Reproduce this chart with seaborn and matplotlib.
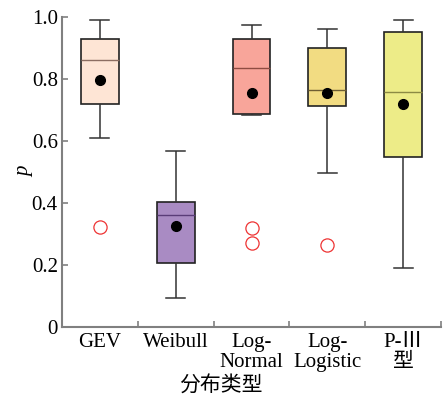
import numpy as np
import pandas as pd
import matplotlib
matplotlib.use("Agg")
import matplotlib.pyplot as plt
import seaborn as sns

cats = ["GEV", "Weibull", "Log-Normal", "Log-Logistic", "P-III"]
tick_labels = ["GEV", "Weibull", "Log-\nNormal", "Log-\nLogistic", "P-Ⅲ\n型"]

p_gev = [0.323, 0.61, 0.72, 0.84, 0.86, 0.92, 0.93, 0.98, 0.99]
p_weibull = [0.095, 0.205, 0.361, 0.404, 0.567]
p_lognormal = [0.27, 0.318, 0.682, 0.686, 0.70, 0.75, 0.834,
               0.85, 0.88, 0.928, 0.95, 0.966, 0.975]
p_loglogistic = [0.265, 0.498, 0.62, 0.714, 0.73, 0.76, 0.765,
                 0.82, 0.87, 0.898, 0.928, 0.96, 0.961]
p_p3 = [0.189, 0.45, 0.548, 0.70, 0.757, 0.92, 0.951, 0.975, 0.99]

box_colors = ["#FEE5D5", "#A98BC3", "#F8A59A", "#F2DC82", "#EDEC88"]
median_colors = ["#8C6E62", "#5A3C78", "#8E4C42", "#6E5E32", "#8C8A44"]

groups = [p_gev, p_weibull, p_lognormal, p_loglogistic, p_p3]

fig, ax = plt.subplots(figsize=(4.46, 4.01), dpi=100)
fig.subplots_adjust(left=0.139, right=0.989, bottom=0.1845, top=0.958)

for cat, vals, fc, mc in zip(cats, groups, box_colors, median_colors):
    df = pd.DataFrame({"dist": [cat] * len(vals), "p": vals})
    sns.boxplot(data=df, x="dist", y="p", order=cats, ax=ax,
                color=fc, saturation=1, width=0.5, linewidth=1.2,
                showmeans=True,
                boxprops=dict(edgecolor="#222222", linewidth=1.2),
                whiskerprops=dict(color="#333333", linewidth=1.1),
                capprops=dict(color="#333333", linewidth=1.1),
                medianprops=dict(color=mc, linewidth=1.0),
                meanprops=dict(marker="o", markerfacecolor="black",
                               markeredgecolor="black", markersize=7),
                flierprops=dict(marker="o", markerfacecolor="none",
                                markeredgecolor="#EE3333", markersize=9.5,
                                markeredgewidth=0.9))

serif = ["Liberation Serif", "Noto Sans CJK SC"]

ax.set_ylim(0, 1.0)
ax.set_xlim(-0.5, 4.5)
ax.set_yticks([0, 0.2, 0.4, 0.6, 0.8, 1.0])
ax.set_yticklabels(["0", "0.2", "0.4", "0.6", "0.8", "1.0"],
                   family=serif, fontsize=15)
ax.set_xticks(range(5))
ax.set_xticklabels(tick_labels, family=serif, fontsize=15, linespacing=1.1)
ax.set_xticks([0.5, 1.5, 2.5, 3.5, 4.5], minor=True)
ax.tick_params(axis="x", which="major", length=0, pad=4)
ax.tick_params(axis="x", which="minor", direction="in", length=4,
               color="#808080", width=1.2)
ax.tick_params(axis="y", direction="in", length=4, color="#808080", width=1.2,
               pad=3)

ax.set_ylabel("p", family=serif, fontsize=15, style="italic", labelpad=-2)
ax.set_xlabel("分布类型", family=["Noto Sans CJK SC"], fontsize=15,
              labelpad=2, x=0.42)

for side in ["top", "right"]:
    ax.spines[side].set_visible(False)
for side in ["left", "bottom"]:
    ax.spines[side].set_color("#808080")
    ax.spines[side].set_linewidth(1.5)

fig.savefig("out.png", dpi=100)
